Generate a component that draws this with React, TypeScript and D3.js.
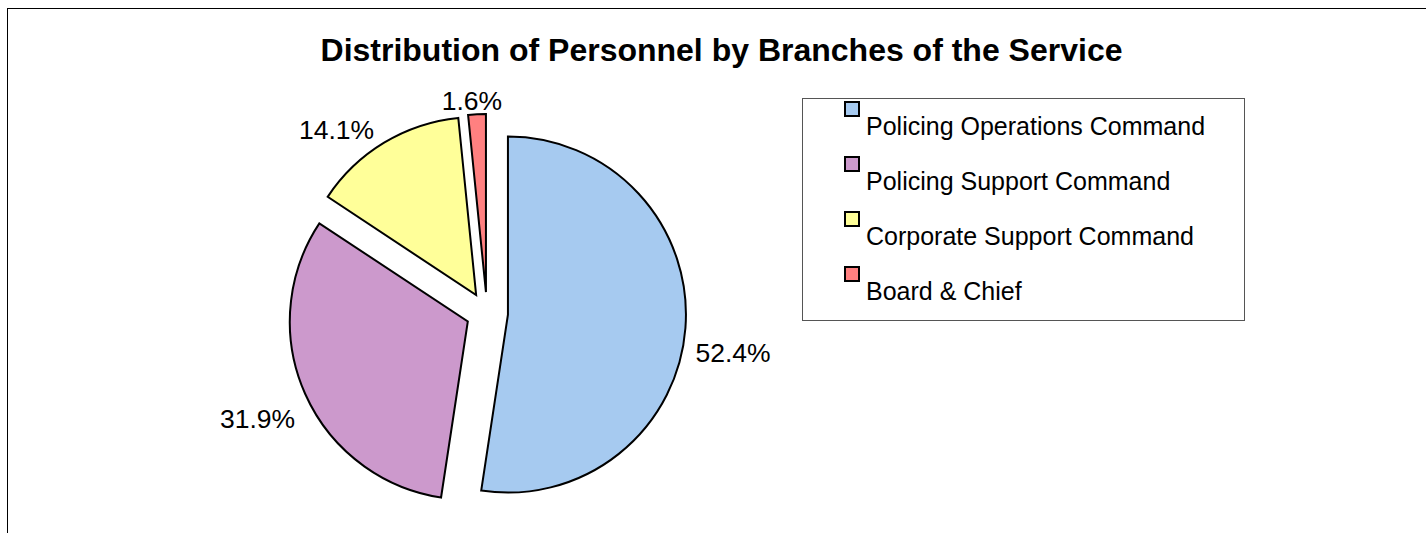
import * as d3 from "d3";

const categories = [
  "Policing Operations Command",
  "Policing Support Command",
  "Corporate Support Command",
  "Board & Chief",
];
const shares = [52.4, 31.9, 14.1, 1.6];
const labels = ["52.4%", "31.9%", "14.1%", "1.6%"];
const colors = ["#A6CAF0", "#CC99CC", "#FFFF99", "#FF8080"];

const title = "Distribution of Personnel by Branches of the Service";
const font = "'Liberation Sans', Arial, sans-serif";

type Slice = { name: string; value: number; label: string; color: string };

// rough Arial advance widths (em) for the label text
const advance = (s: string) =>
  s.split("").reduce((w, c) => w + (c === "." ? 0.278 : c === "%" ? 0.889 : 0.556), 0);

const App = () => {
  // page coordinates
  const cx = 487;
  const cy = 313;
  const radius = 178;
  const explode = 21;
  const labelSize = 26.5;

  const data: Slice[] = categories.map((name, i) => ({
    name,
    value: shares[i],
    label: labels[i],
    color: colors[i],
  }));

  const pie = d3
    .pie<Slice>()
    .sort(null)
    .value((d) => d.value)
    .startAngle(0)
    .endAngle(2 * Math.PI);
  const arcs = pie(data);

  const arc = d3.arc<d3.PieArcDatum<Slice>>().innerRadius(0).outerRadius(radius);

  // legend rows
  const legendY = d3
    .scalePoint<string>()
    .domain(categories)
    .range([101, 101 + 55 * 3]);

  return (
    <svg
      width={1426}
      height={533}
      style={{ position: "fixed", left: 0, top: 0, display: "block" }}
      fontFamily={font}
    >
      <rect x={7.5} y={8.5} width={2000} height={2000} fill="#fff" stroke="#000" strokeWidth={1} />

      <text x={721.5} y={61} textAnchor="middle" fontSize={32} fontWeight="bold" fill="#000">
        {title}
      </text>

      {arcs.map((a) => {
        const mid = (a.startAngle + a.endAngle) / 2;
        const dx = Math.sin(mid);
        const dy = -Math.cos(mid);
        const ox = cx + dx * explode;
        const oy = cy + dy * explode;
        // outside end label: box corner sits just off the rim point
        const rimX = cx + dx * (explode + radius);
        const rimY = cy + dy * (explode + radius);
        const halfW = (advance(a.data.label) * labelSize) / 2;
        const halfH = labelSize * 0.36;
        const sx = Math.max(-1, Math.min(1, dx * 2.5));
        const lx = rimX + sx * (halfW + 10);
        const ly = dy >= 0 ? rimY + 15 + halfH : rimY - 4 - halfH;
        return (
          <g key={a.data.name}>
            <path
              d={arc(a) ?? ""}
              transform={`translate(${ox},${oy})`}
              fill={a.data.color}
              stroke="#000"
              strokeWidth={2}
            />
            <text x={lx} y={ly} dy="0.36em" textAnchor="middle" fontSize={labelSize} fill="#000">
              {a.data.label}
            </text>
          </g>
        );
      })}

      <rect x={802.5} y={98.5} width={442} height={222} fill="#fff" stroke="#555" strokeWidth={1} />
      {data.map((d) => {
        const y = legendY(d.name) ?? 0;
        return (
          <g key={d.name}>
            <rect x={845} y={y + 1} width={14} height={14} fill={d.color} stroke="#000" strokeWidth={2} />
            <text x={866} y={y + 34} fontSize={25} fill="#000">
              {d.name}
            </text>
          </g>
        );
      })}
    </svg>
  );
};

export default App;
